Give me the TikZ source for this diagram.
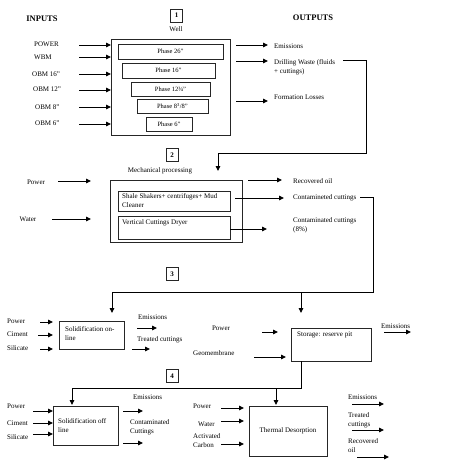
\documentclass[tikz,border=0pt]{standalone}
\usepackage{fontspec}
\setmainfont{Liberation Serif}
\usetikzlibrary{arrows.meta}
\tikzset{
  bx/.style={draw=black!85, line width=0.8pt, inner sep=0pt, outer sep=0pt, anchor=north west},
  ptext/.style={font=\fontsize{6.5}{8}\selectfont},
  lbl/.style={font=\fontsize{7}{9}\selectfont, inner sep=0pt, anchor=west, align=left},
  clbl/.style={font=\fontsize{7}{9}\selectfont, inner sep=0pt, align=center},
  hdr/.style={font=\bfseries\fontsize{8.5}{10}\selectfont, inner sep=0pt},
  numbox/.style={draw=black!85, line width=0.8pt, minimum width=12pt, minimum height=13pt, inner sep=0pt, font=\bfseries\fontsize{7}{8}\selectfont},
  arr/.style={-{Triangle[length=5pt,width=4.5pt]}, line width=0.9pt},
  ln/.style={line width=0.8pt}
}
\begin{document}
\begin{tikzpicture}[x=1pt,y=-1pt]
\useasboundingbox (0,0) rectangle (474,474);

% ---------- headers ----------
\node[hdr] (inputs) at (42,19) {INPUTS};
\node[hdr] (outputs) at (313,18) {OUTPUTS};

% ---------- section 1: Well ----------
\node[numbox] (n1) at (176.5,15.5) {1};
\node[clbl] (welllbl) at (176,29) {Well};
\node[bx, minimum width=119pt, minimum height=96pt] (well) at (111,39) {};
\node[bx, minimum width=105pt, minimum height=15pt, ptext] (p26) at (118,44) {Phase 26''};
\node[bx, minimum width=93pt, minimum height=15pt, ptext] (p16) at (122,63) {Phase 16''};
\node[bx, minimum width=79pt, minimum height=14pt, ptext] (p12) at (131,82) {Phase 12¾''};
\node[bx, minimum width=71pt, minimum height=14pt, ptext] (p8) at (137,99) {Phase 8\textsuperscript{3}/8''};
\node[bx, minimum width=46pt, minimum height=14pt, ptext] (p6) at (146,117) {Phase 6''};

\node[lbl] (iPOWER) at (34,44) {POWER};
\node[lbl] (iWBM) at (34,57) {WBM};
\node[lbl] (iOBM16) at (32,74) {OBM 16''};
\node[lbl] (iOBM12) at (33,89) {OBM 12''};
\node[lbl] (iOBM8) at (35,107) {OBM 8''};
\node[lbl] (iOBM6) at (35,123) {OBM 6''};

\coordinate (a1) at (79,45);
\coordinate (a2) at (79,57);
\coordinate (a3) at (79,74);
\coordinate (a4) at (79,90);
\coordinate (a5) at (79,107);
\coordinate (a6) at (79,124);
\foreach \c in {a1,a2,a3,a4,a5,a6}
  \draw[arr] (\c) -- (\c -| well.west);

\coordinate (o1s) at (236,45);  \coordinate (o1e) at (268,45);
\coordinate (o2s) at (236,61);  \coordinate (o2e) at (268,61);
\coordinate (o3s) at (236,101); \coordinate (o3e) at (268,101);
\draw[arr] (o1s) -- (o1e);
\draw[arr] (o2s) -- (o2e);
\draw[arr] (o3s) -- (o3e);
\node[lbl] (oEm1) at (274,46) {Emissions};
\node[lbl] (oDW) at (274,67.5) {Drilling Waste (fluids\\+ cuttings)};
\node[lbl] (oFL) at (274,97) {Formation Losses};

% connector Drilling waste -> Mechanical processing
\coordinate (dw1) at (343,60);
\coordinate (dw2) at (366,60);
\coordinate (dw3) at (366,153);
\coordinate (dw4) at (218,153);
\coordinate (dw5) at (218,171);
\draw[ln] (dw1) -- (dw2) -- (dw3) -- (dw4);
\draw[arr] (dw4) -- (dw5);

% ---------- section 2: Mechanical ----------
\node[numbox] (n2) at (172,155) {2};
\node[clbl] (mechlbl) at (160,171) {Mechanical processing};
\node[bx, minimum width=132pt, minimum height=62pt] (mech) at (110,180) {};
\node[bx, minimum width=112pt, minimum height=20pt] (shale) at (118,191) {};
\node[lbl] (shaletxt) at (122,200.5) {Shale Shakers+ centrifuges+ Mud\\Cleaner};
\node[bx, minimum width=112pt, minimum height=23pt] (vcd) at (118,216) {};
\node[lbl] (vcdtxt) at (122,223) {Vertical Cuttings Dryer};

\node[clbl] (mPower) at (36,182) {Power};
\node[clbl] (mWater) at (28,219) {Water};
\coordinate (m1s) at (58,181); \coordinate (m1e) at (91,181);
\coordinate (m2s) at (52,219); \coordinate (m2e) at (91,219);
\draw[arr] (m1s) -- (m1e);
\draw[arr] (m2s) -- (m2e);

\coordinate (r1s) at (248,180); \coordinate (r1e) at (282,180);
\coordinate (r2s) at (235,198); \coordinate (r2e) at (284,198);
\coordinate (r3s) at (230,229); \coordinate (r3e) at (267,229);
\draw[arr] (r1s) -- (r1e);
\draw[arr] (r2s) -- (r2e);
\draw[arr] (r3s) -- (r3e);
\node[lbl] (mRO) at (293,181) {Recovered oil};
\node[lbl] (mCC) at (293,198) {Contamineted cuttings};
\node[lbl] (mCC8) at (293,225.5) {Contaminated cuttings\\(8\%)};

% connector contaminated cuttings -> section 3
\coordinate (cc1) at (360,197);
\coordinate (cc2) at (373,197);
\coordinate (cc3) at (373,292);
\coordinate (cc4) at (112,292);
\coordinate (cc5) at (112,313);
\coordinate (cc6) at (301,292);
\coordinate (cc7) at (301,313);
\draw[ln] (cc1) -- (cc2) -- (cc3) -- (cc4);
\draw[arr] (cc4) -- (cc5);
\draw[arr] (cc6) -- (cc7);

% ---------- section 3 ----------
\node[numbox] (n3) at (172,274) {3};
\node[bx, minimum width=65pt, minimum height=28pt] (son) at (59,321) {};
\node[lbl] (sontxt) at (65,333.5) {Solidification on-\\line};
\node[lbl] (s3P) at (7,321) {Power};
\node[lbl] (s3C) at (7,334) {Ciment};
\node[lbl] (s3S) at (7,348) {Silicate};
\coordinate (s3a1) at (40,322); \coordinate (s3a1e) at (53,322);
\coordinate (s3a2) at (38,335); \coordinate (s3a2e) at (53,335);
\coordinate (s3a3) at (40,349); \coordinate (s3a3e) at (53,349);
\draw[arr] (s3a1) -- (s3a1e);
\draw[arr] (s3a2) -- (s3a2e);
\draw[arr] (s3a3) -- (s3a3e);
\node[lbl] (s3Em) at (138,317) {Emissions};
\node[lbl] (s3TC) at (137,340) {Treated cuttings};
\coordinate (s3o1) at (137,328); \coordinate (s3o1e) at (157,328);
\coordinate (s3o2) at (132,349); \coordinate (s3o2e) at (150,349);
\draw[arr] (s3o1) -- (s3o1e);
\draw[arr] (s3o2) -- (s3o2e);

\node[bx, minimum width=80pt, minimum height=33pt] (stor) at (291,328) {};
\node[lbl] (stortxt) at (297,335) {Storage: reserve pit};
\node[clbl] (stP) at (221,328) {Power};
\node[lbl] (stG) at (193,353) {Geomembrane};
\coordinate (st1) at (262,332); \coordinate (st1e) at (278,332);
\coordinate (st2) at (254,357); \coordinate (st2e) at (286,357);
\draw[arr] (st1) -- (st1e);
\draw[arr] (st2) -- (st2e);
\node[lbl] (stEm) at (381,326) {Emissions};
\coordinate (sto1) at (384,332); \coordinate (sto1e) at (411,332);
\draw[arr] (sto1) -- (sto1e);

% connector storage -> section 4
\coordinate (sb1) at (301,361);
\coordinate (sb2) at (301,388);
\coordinate (sb3) at (72,388);
\coordinate (sb4) at (72,405);
\coordinate (sb5) at (276,388);
\coordinate (sb6) at (276,405);
\draw[ln] (sb1) -- (sb2) -- (sb3);
\draw[arr] (sb3) -- (sb4);
\draw[arr] (sb5) -- (sb6);

% ---------- section 4 ----------
\node[numbox] (n4) at (172,376) {4};
\node[bx, minimum width=65pt, minimum height=39pt] (soff) at (53,406) {};
\node[lbl] (sofftxt) at (58,425.5) {Solidification off\\line};
\node[lbl] (s4P) at (7,406) {Power};
\node[lbl] (s4C) at (7,423) {Ciment};
\node[lbl] (s4S) at (7,437) {Silicate};
\coordinate (s4a1) at (33,411);
\coordinate (s4a2) at (33,423);
\coordinate (s4a3) at (33,434);
\draw[arr] (s4a1) -- (s4a1 -| soff.west);
\draw[arr] (s4a2) -- (s4a2 -| soff.west);
\draw[arr] (s4a3) -- (s4a3 -| soff.west);
\node[lbl] (s4Em) at (133,397) {Emissions};
\node[lbl] (s4CC) at (130,427.5) {Contaminated\\Cuttings};
\coordinate (s4o1) at (123,411); \coordinate (s4o1e) at (143,411);
\coordinate (s4o2) at (123,443); \coordinate (s4o2e) at (143,443);
\draw[arr] (s4o1) -- (s4o1e);
\draw[arr] (s4o2) -- (s4o2e);

\node[bx, minimum width=78pt, minimum height=50pt, font=\fontsize{7}{9}\selectfont] (td) at (249,406) {Thermal Desorption};
\node[lbl] (tdP) at (193,406) {Power};
\node[lbl] (tdW) at (198,424) {Water};
\node[lbl] (tdAC) at (193,441) {Activated\\Carbon};
\coordinate (td1) at (221,408); \coordinate (td1e) at (244,408);
\coordinate (td2) at (221,421); \coordinate (td2e) at (244,421);
\coordinate (td3) at (221,444); \coordinate (td3e) at (244,444);
\draw[arr] (td1) -- (td1e);
\draw[arr] (td2) -- (td2e);
\draw[arr] (td3) -- (td3e);
\node[lbl] (tdEm) at (348,397) {Emissions};
\node[lbl] (tdTC) at (348,420) {Treated\\cuttings};
\node[lbl] (tdRO) at (348,446) {Recovered\\oil};
\coordinate (tdo1) at (352,404); \coordinate (tdo1e) at (384,404);
\coordinate (tdo2) at (352,430); \coordinate (tdo2e) at (384,430);
\coordinate (tdo3) at (357,457); \coordinate (tdo3e) at (389,457);
\draw[arr] (tdo1) -- (tdo1e);
\draw[arr] (tdo2) -- (tdo2e);
\draw[arr] (tdo3) -- (tdo3e);
\end{tikzpicture}
\end{document}
